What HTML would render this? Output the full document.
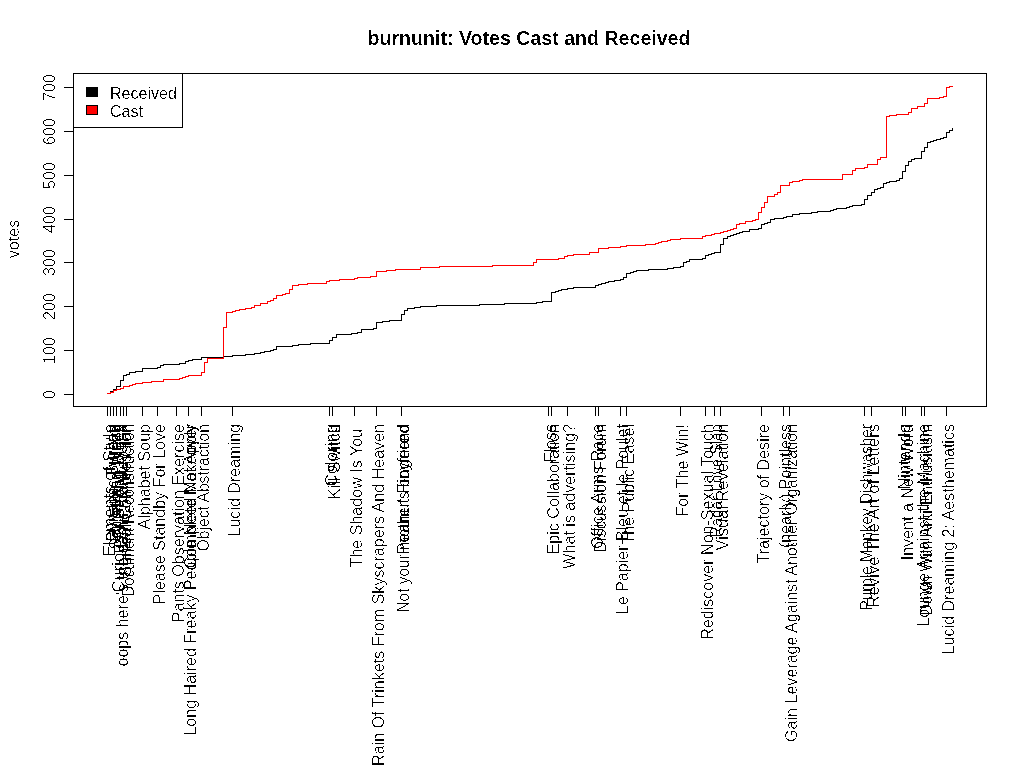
<!DOCTYPE html>
<html><head><meta charset="utf-8"><title>burnunit: Votes Cast and Received</title>
<style>
html,body{margin:0;padding:0;background:#fff;width:1024px;height:768px;overflow:hidden}
svg{display:block}
text{font-family:"Liberation Sans",sans-serif;font-size:16.07px;fill:#000}
.t{font-weight:bold;font-size:19.6px}
</style></head><body>
<svg width="1024" height="768" viewBox="0 0 1024 768">
<defs><filter id="bin" x="0" y="0" width="1024" height="768" filterUnits="userSpaceOnUse"><feComponentTransfer><feFuncA type="linear" slope="50" intercept="-29.5"/></feComponentTransfer></filter><filter id="binr" x="0" y="0" width="1024" height="768" filterUnits="userSpaceOnUse"><feComponentTransfer><feFuncA type="linear" slope="50" intercept="-33.5"/></feComponentTransfer></filter></defs>
<rect x="0" y="0" width="1024" height="768" fill="#fff"/>
<g filter="url(#bin)">
<text class="t" x="529" y="45" text-anchor="middle">burnunit: Votes Cast and Received</text>
<g stroke="#000" stroke-width="1" shape-rendering="crispEdges" fill="none">
<path d="M73.5 73.5H986.5V406.5H73.5Z" fill="none"/>
<path d="M64 394.5H73"/>
<path d="M64 350.5H73"/>
<path d="M64 306.5H73"/>
<path d="M64 262.5H73"/>
<path d="M64 219.5H73"/>
<path d="M64 175.5H73"/>
<path d="M64 131.5H73"/>
<path d="M64 87.5H73"/>
<path d="M107.5 406V416"/>
<path d="M110.5 406V416"/>
<path d="M113.5 406V416"/>
<path d="M116.5 406V416"/>
<path d="M120.5 406V416"/>
<path d="M123.5 406V416"/>
<path d="M126.5 406V416"/>
<path d="M142.5 406V416"/>
<path d="M157.5 406V416"/>
<path d="M176.5 406V416"/>
<path d="M188.5 406V416"/>
<path d="M201.5 406V416"/>
<path d="M232.5 406V416"/>
<path d="M329.5 406V416"/>
<path d="M332.5 406V416"/>
<path d="M354.5 406V416"/>
<path d="M376.5 406V416"/>
<path d="M401.5 406V416"/>
<path d="M548.5 406V416"/>
<path d="M551.5 406V416"/>
<path d="M567.5 406V416"/>
<path d="M595.5 406V416"/>
<path d="M598.5 406V416"/>
<path d="M620.5 406V416"/>
<path d="M626.5 406V416"/>
<path d="M680.5 406V416"/>
<path d="M705.5 406V416"/>
<path d="M714.5 406V416"/>
<path d="M720.5 406V416"/>
<path d="M761.5 406V416"/>
<path d="M783.5 406V416"/>
<path d="M789.5 406V416"/>
<path d="M864.5 406V416"/>
<path d="M871.5 406V416"/>
<path d="M902.5 406V416"/>
<path d="M905.5 406V416"/>
<path d="M921.5 406V416"/>
<path d="M924.5 406V416"/>
<path d="M946.5 406V416"/>
</g>
<path d="M107.5 393.5H110.5V391.5H113.5V389.5H116.5V386.5H120.5V380.5H123.5V375.5H126.5V374.5H129.5V372.5H135.5V371.5H142.5V368.5H157.5V367.5H160.5V365.5H163.5V364.5H179.5V363.5H185.5V361.5H188.5V360.5H192.5V359.5H201.5V357.5H223.5V356.5H232.5V355.5H245.5V354.5H254.5V353.5H260.5V352.5H264.5V351.5H270.5V350.5H273.5V349.5H276.5V346.5H292.5V345.5H298.5V344.5H310.5V343.5H329.5V340.5H332.5V337.5H336.5V334.5H351.5V333.5H357.5V332.5H361.5V329.5H373.5V328.5H376.5V322.5H382.5V321.5H389.5V320.5H401.5V314.5H404.5V310.5H407.5V308.5H414.5V307.5H420.5V306.5H436.5V305.5H479.5V304.5H504.5V303.5H536.5V302.5H542.5V301.5H551.5V292.5H555.5V291.5H558.5V290.5H561.5V289.5H567.5V288.5H573.5V287.5H595.5V285.5H598.5V284.5H601.5V283.5H605.5V282.5H608.5V281.5H614.5V280.5H620.5V279.5H623.5V277.5H626.5V273.5H630.5V272.5H633.5V271.5H636.5V270.5H648.5V269.5H667.5V268.5H673.5V267.5H680.5V266.5H683.5V262.5H686.5V261.5H689.5V259.5H702.5V258.5H705.5V255.5H708.5V254.5H711.5V253.5H714.5V252.5H720.5V244.5H723.5V238.5H727.5V236.5H730.5V235.5H733.5V234.5H736.5V233.5H739.5V232.5H742.5V231.5H749.5V229.5H758.5V228.5H761.5V224.5H764.5V223.5H767.5V222.5H770.5V219.5H774.5V218.5H783.5V217.5H786.5V216.5H792.5V214.5H799.5V213.5H811.5V212.5H817.5V211.5H830.5V210.5H833.5V209.5H836.5V208.5H846.5V207.5H849.5V206.5H852.5V205.5H861.5V204.5H864.5V199.5H867.5V195.5H871.5V192.5H874.5V189.5H877.5V188.5H880.5V187.5H883.5V183.5H886.5V182.5H889.5V181.5H896.5V180.5H899.5V178.5H902.5V171.5H905.5V165.5H908.5V161.5H911.5V159.5H914.5V158.5H921.5V151.5H924.5V147.5H927.5V142.5H930.5V141.5H933.5V140.5H936.5V139.5H940.5V138.5H943.5V137.5H946.5V132.5H949.5V130.5H952.5V128.5H952.5" stroke="#000" stroke-width="1" fill="none" shape-rendering="crispEdges" stroke-linecap="square"/>
<path d="M107.5 393.5H110.5V392.5H113.5V390.5H116.5V389.5H120.5V388.5H123.5V386.5H129.5V385.5H132.5V384.5H135.5V383.5H142.5V382.5H151.5V381.5H163.5V379.5H179.5V378.5H182.5V377.5H185.5V376.5H188.5V375.5H201.5V372.5H204.5V362.5H207.5V358.5H223.5V327.5H226.5V312.5H232.5V311.5H235.5V310.5H239.5V309.5H245.5V308.5H251.5V307.5H254.5V305.5H260.5V303.5H267.5V301.5H270.5V300.5H273.5V298.5H276.5V295.5H282.5V294.5H285.5V293.5H289.5V289.5H292.5V285.5H298.5V284.5H307.5V283.5H326.5V281.5H329.5V280.5H339.5V279.5H354.5V278.5H357.5V277.5H370.5V276.5H376.5V271.5H386.5V270.5H395.5V269.5H420.5V267.5H439.5V266.5H492.5V265.5H533.5V262.5H536.5V259.5H558.5V258.5H564.5V256.5H567.5V255.5H573.5V254.5H589.5V252.5H598.5V248.5H608.5V247.5H620.5V246.5H626.5V245.5H645.5V244.5H655.5V243.5H658.5V242.5H661.5V241.5H667.5V240.5H670.5V239.5H680.5V238.5H702.5V236.5H705.5V235.5H711.5V234.5H714.5V233.5H720.5V232.5H723.5V231.5H727.5V230.5H730.5V229.5H733.5V228.5H736.5V224.5H739.5V223.5H745.5V221.5H752.5V220.5H755.5V219.5H758.5V212.5H761.5V207.5H764.5V202.5H767.5V196.5H774.5V194.5H777.5V192.5H780.5V185.5H789.5V182.5H792.5V181.5H799.5V180.5H802.5V179.5H842.5V174.5H852.5V170.5H855.5V168.5H864.5V167.5H867.5V164.5H877.5V159.5H880.5V157.5H886.5V116.5H889.5V115.5H896.5V114.5H908.5V112.5H911.5V108.5H917.5V106.5H924.5V103.5H927.5V98.5H939.5V97.5H943.5V96.5H946.5V87.5H949.5V86.5H952.5" stroke="#f00" stroke-width="1" fill="none" shape-rendering="crispEdges" stroke-linecap="square"/>
<rect x="73.5" y="73.5" width="109" height="54" fill="none" stroke="#000" shape-rendering="crispEdges"/>
<rect x="86" y="87" width="12" height="10" fill="#000" shape-rendering="crispEdges"/>
<rect x="86.5" y="105.5" width="11" height="9" fill="#f00" stroke="#000" shape-rendering="crispEdges"/>
<text x="110" y="99">Received</text>
<text x="110" y="117">Cast</text>
</g><g filter="url(#binr)">
<text transform="translate(55,394.5) rotate(-90)" text-anchor="middle">0</text>
<text transform="translate(55,350.5) rotate(-90)" text-anchor="middle">100</text>
<text transform="translate(55,306.5) rotate(-90)" text-anchor="middle">200</text>
<text transform="translate(55,262.5) rotate(-90)" text-anchor="middle">300</text>
<text transform="translate(55,219.5) rotate(-90)" text-anchor="middle">400</text>
<text transform="translate(55,175.5) rotate(-90)" text-anchor="middle">500</text>
<text transform="translate(55,131.5) rotate(-90)" text-anchor="middle">600</text>
<text transform="translate(55,87.5) rotate(-90)" text-anchor="middle">700</text>
<text transform="translate(19,239) rotate(-90)" text-anchor="middle">votes</text>
<text transform="translate(115,424) rotate(-90)" text-anchor="end" textLength="132.5" lengthAdjust="spacingAndGlyphs">Elements of Style</text>
<text transform="translate(118,424) rotate(-90)" text-anchor="end" textLength="117.5" lengthAdjust="spacingAndGlyphs">Dynamic Bureau</text>
<text transform="translate(121,424) rotate(-90)" text-anchor="end" textLength="125.5" lengthAdjust="spacingAndGlyphs">Something Weird</text>
<text transform="translate(124,424) rotate(-90)" text-anchor="end" textLength="168.5" lengthAdjust="spacingAndGlyphs">Curiously Strong Blues</text>
<text transform="translate(128,424) rotate(-90)" text-anchor="end" textLength="242.5" lengthAdjust="spacingAndGlyphs">oops here&#39;s the damn monkey link</text>
<text transform="translate(131,424) rotate(-90)" text-anchor="end" textLength="152.5" lengthAdjust="spacingAndGlyphs">Surreal Compression</text>
<text transform="translate(134,424) rotate(-90)" text-anchor="end" textLength="172.5" lengthAdjust="spacingAndGlyphs">Document Reconstruction</text>
<text transform="translate(150,424) rotate(-90)" text-anchor="end">Alphabet Soup</text>
<text transform="translate(165,424) rotate(-90)" text-anchor="end">Please Standby For Love</text>
<text transform="translate(184,424) rotate(-90)" text-anchor="end">Pants Observation Exercise</text>
<text transform="translate(196,424) rotate(-90)" text-anchor="end">Long Haired Freaky People Need Not Apply</text>
<text transform="translate(196,424) rotate(-90)" text-anchor="end" textLength="144.5" lengthAdjust="spacingAndGlyphs">Complete Makeover</text>
<text transform="translate(209,424) rotate(-90)" text-anchor="end" textLength="127.5" lengthAdjust="spacingAndGlyphs">Object Abstraction</text>
<text transform="translate(240,424) rotate(-90)" text-anchor="end">Lucid Dreaming</text>
<text transform="translate(337,424) rotate(-90)" text-anchor="end" textLength="62.5" lengthAdjust="spacingAndGlyphs">Coloring</text>
<text transform="translate(340,424) rotate(-90)" text-anchor="end" textLength="75.5" lengthAdjust="spacingAndGlyphs">Kill Switch</text>
<text transform="translate(362,429) rotate(-90)" text-anchor="end">The Shadow Is You</text>
<text transform="translate(384,424) rotate(-90)" text-anchor="end">Rain Of Trinkets From Skyscrapers And Heaven</text>
<text transform="translate(409,424) rotate(-90)" text-anchor="end" textLength="188.5" lengthAdjust="spacingAndGlyphs">Not your mother&#39;s boyfriend</text>
<text transform="translate(409,424) rotate(-90)" text-anchor="end" textLength="130.5" lengthAdjust="spacingAndGlyphs">Peanut Fingered</text>
<text transform="translate(556,424) rotate(-90)" text-anchor="end">Floss</text>
<text transform="translate(559,424) rotate(-90)" text-anchor="end">Epic Collaboration</text>
<text transform="translate(575,424) rotate(-90)" text-anchor="end">What is advertising?</text>
<text transform="translate(603,424) rotate(-90)" text-anchor="end">Office Arms Race</text>
<text transform="translate(606,424) rotate(-90)" text-anchor="end">Discussion Forum</text>
<text transform="translate(628,424) rotate(-90)" text-anchor="end">Le Papier Bleu et le Poulet</text>
<text transform="translate(634,424) rotate(-90)" text-anchor="end">The Public Easel</text>
<text transform="translate(688,424) rotate(-90)" text-anchor="end">For The Win!</text>
<text transform="translate(713,424) rotate(-90)" text-anchor="end">Rediscover Non-Sexual Touch</text>
<text transform="translate(722,424) rotate(-90)" text-anchor="end" textLength="113.5" lengthAdjust="spacingAndGlyphs">Radar Love Slap</text>
<text transform="translate(728,424) rotate(-90)" text-anchor="end" textLength="126.5" lengthAdjust="spacingAndGlyphs">Visual Revelation</text>
<text transform="translate(769,424) rotate(-90)" text-anchor="end">Trajectory of Desire</text>
<text transform="translate(791,424) rotate(-90)" text-anchor="end">(nearly) Pointless</text>
<text transform="translate(797,424) rotate(-90)" text-anchor="end">Gain Leverage Against Another Organization</text>
<text transform="translate(872,424) rotate(-90)" text-anchor="end" textLength="186.5" lengthAdjust="spacingAndGlyphs">Purple Monkey Dishwasher</text>
<text transform="translate(879,424) rotate(-90)" text-anchor="end" textLength="183.5" lengthAdjust="spacingAndGlyphs">Revive The Art of Letters</text>
<text transform="translate(910,424) rotate(-90)" text-anchor="end" textLength="65.5" lengthAdjust="spacingAndGlyphs">Nintendo</text>
<text transform="translate(913,424) rotate(-90)" text-anchor="end">Invent a New Word</text>
<text transform="translate(929,424) rotate(-90)" text-anchor="end">Lounge Against the Machine</text>
<text transform="translate(932,424) rotate(-90)" text-anchor="end" textLength="191.5" lengthAdjust="spacingAndGlyphs">Down With Anti-Enthusiasm</text>
<text transform="translate(954,424) rotate(-90)" text-anchor="end">Lucid Dreaming 2: Aesthematics</text>
</g></svg></body></html>
